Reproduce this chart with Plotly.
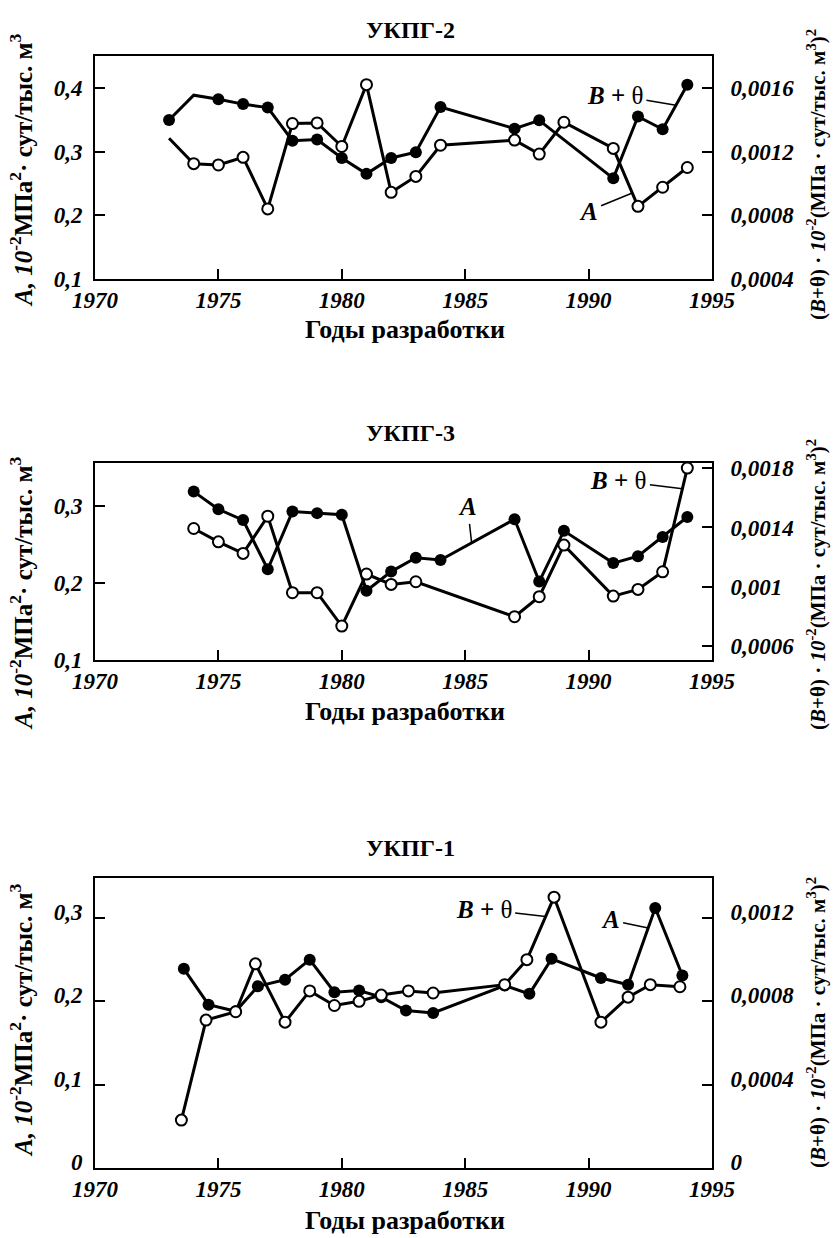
import plotly.graph_objects as go

# ---------------- data ----------------
# Panel 1: УКПГ-2
p1_a_years = [1973, 1974, 1975, 1976, 1977, 1978, 1979, 1980, 1981, 1982, 1983, 1984,
              1987, 1988, 1989, 1991, 1992, 1993, 1994]
p1_a_vals = [0.321, 0.281, 0.279, 0.291, 0.210, 0.344, 0.345, 0.308, 0.405, 0.236, 0.261, 0.310,
             0.318, 0.296, 0.346, 0.305, 0.214, 0.244, 0.275]
p1_b_years = [1973, 1974, 1975, 1976, 1977, 1978, 1979, 1980, 1981, 1982, 1983, 1984,
              1987, 1988, 1991, 1992, 1993, 1994]
p1_b_vals = [0.001398, 0.001554, 0.001528, 0.001498, 0.001476, 0.001268, 0.001276, 0.00116,
             0.00106, 0.00116, 0.001196, 0.00148, 0.001344, 0.001396, 0.001032, 0.00142,
             0.00134, 0.00162]

# Panel 2: УКПГ-3
p2_a_years = [1974, 1975, 1976, 1977, 1978, 1979, 1980, 1981, 1982, 1983, 1984,
              1987, 1988, 1989, 1991, 1992, 1993, 1994]
p2_a_vals = [0.319, 0.296, 0.282, 0.218, 0.293, 0.291, 0.289, 0.190, 0.215, 0.233, 0.230,
             0.283, 0.202, 0.268, 0.226, 0.235, 0.260, 0.286]
p2_b_years = [1974, 1975, 1976, 1977, 1978, 1979, 1980, 1981, 1982, 1983,
              1987, 1988, 1989, 1991, 1992, 1993, 1994]
p2_b_vals = [0.001393, 0.001303, 0.001225, 0.001476, 0.000960, 0.000960, 0.000735, 0.001086,
             0.001016, 0.001034, 0.000798, 0.000933, 0.001281, 0.000937, 0.000982, 0.001101,
             0.001801]

# Panel 3: УКПГ-1
p3_a_years = [1973.6, 1974.6, 1975.7, 1976.6, 1977.7, 1978.7, 1979.7, 1980.7, 1981.6, 1982.6,
              1983.7, 1986.6, 1987.6, 1988.5, 1990.5, 1991.6, 1992.7, 1993.8]
p3_a_vals = [0.239, 0.196, 0.188, 0.218, 0.226, 0.250, 0.211, 0.213, 0.205, 0.189,
             0.186, 0.219, 0.209, 0.251, 0.228, 0.220, 0.312, 0.231]
p3_b_years = [1973.5, 1974.5, 1975.7, 1976.5, 1977.7, 1978.7, 1979.7, 1980.7, 1981.6, 1982.7,
              1983.7, 1986.6, 1987.5, 1988.6, 1990.5, 1991.6, 1992.5, 1993.7]
p3_b_vals = [0.00023, 0.00071, 0.00075, 0.00098, 0.00070, 0.00085, 0.00078, 0.00080, 0.00083,
             0.00085, 0.00084, 0.00088, 0.00100, 0.00130, 0.00070, 0.00082, 0.00088, 0.00087]

x_ticks = [1970, 1975, 1980, 1985, 1990, 1995]
p1_left_ticks = [0.1, 0.2, 0.3, 0.4]
p1_right_ticks = [0.0004, 0.0008, 0.0012, 0.0016]
p2_left_ticks = [0.1, 0.2, 0.3]
p2_right_ticks = [0.0006, 0.001, 0.0014, 0.0018]
p3_left_ticks = [0, 0.1, 0.2, 0.3]
p3_right_ticks = [0, 0.0004, 0.0008, 0.0012]

titles = ["УКПГ-2", "УКПГ-3", "УКПГ-1"]
x_title = "Годы разработки"

# ---------------- style ----------------
W, H = 833, 1238
SERIF = "Liberation Serif"
x_dom = [95 / W, 712 / W]
panels_px = [(56, 279), (463, 660), (878, 1168)]  # top, bottom in px
y_doms = [[1 - b / H, 1 - t / H] for t, b in panels_px]
y_label_shift = [0, 0, -6]

ranges = [
    ([0.1, 0.45], [0.0004, 0.0018]),
    ([0.1, 0.3562], [0.000506, 0.001835]),
    ([0, 0.348], [0, 0.001392]),
]
tick_sets = [
    (p1_left_ticks, p1_right_ticks),
    (p2_left_ticks, p2_right_ticks),
    (p3_left_ticks, p3_right_ticks),
]


def fmt(v):
    s = ("%.6f" % v).rstrip("0").rstrip(".")
    return s.replace(".", ",")


tickfont = dict(family=SERIF, size=23, color="black", weight="bold", style="italic")

fig = go.Figure()

line = dict(color="black", width=3)


def open_marker(n, hidden=()):
    return dict(symbol="circle", size=[0 if i in hidden else 11 for i in range(n)],
                color="white", opacity=1, line=dict(color="black", width=2))


def filled_marker(n, hidden=()):
    return dict(symbol="circle", size=[0 if i in hidden else 12 for i in range(n)],
                color="black", opacity=1, line=dict(color="black", width=0))


# Panel 1: A open (left), B+θ filled (right)
fig.add_trace(go.Scatter(x=p1_a_years, y=p1_a_vals, mode="lines+markers", line=line,
                         marker=open_marker(len(p1_a_years), hidden=(0,)),
                         xaxis="x", yaxis="y", cliponaxis=False))
fig.add_trace(go.Scatter(x=p1_b_years, y=p1_b_vals, mode="lines+markers", line=line,
                         marker=filled_marker(len(p1_b_years), hidden=(1,)),
                         xaxis="x", yaxis="y2", cliponaxis=False))
# Panel 2: A filled (left), B+θ open (right)
fig.add_trace(go.Scatter(x=p2_a_years, y=p2_a_vals, mode="lines+markers", line=line,
                         marker=filled_marker(len(p2_a_years)),
                         xaxis="x2", yaxis="y3", cliponaxis=False))
fig.add_trace(go.Scatter(x=p2_b_years, y=p2_b_vals, mode="lines+markers", line=line,
                         marker=open_marker(len(p2_b_years)),
                         xaxis="x2", yaxis="y4", cliponaxis=False))
# Panel 3: A filled (left), B+θ open (right)
fig.add_trace(go.Scatter(x=p3_a_years, y=p3_a_vals, mode="lines+markers", line=line,
                         marker=filled_marker(len(p3_a_years)),
                         xaxis="x3", yaxis="y5", cliponaxis=False))
fig.add_trace(go.Scatter(x=p3_b_years, y=p3_b_vals, mode="lines+markers", line=line,
                         marker=open_marker(len(p3_b_years)),
                         xaxis="x3", yaxis="y6", cliponaxis=False))

axis_common = dict(showline=True, linecolor="black", linewidth=2, ticks="inside",
                   ticklen=10, tickwidth=2, tickcolor="black", showgrid=False,
                   zeroline=False, tickfont=tickfont, automargin=False)

layout = dict(width=W, height=H, margin=dict(l=0, r=0, t=0, b=0, autoexpand=False),
              paper_bgcolor="white", plot_bgcolor="white", showlegend=False,
              template="none")

for i in range(3):
    xa = "xaxis" if i == 0 else "xaxis%d" % (i + 1)
    yl_name = 2 * i + 1
    yr_name = 2 * i + 2
    yl = "yaxis" if yl_name == 1 else "yaxis%d" % yl_name
    yr = "yaxis%d" % yr_name
    yl_ref = "y" if yl_name == 1 else "y%d" % yl_name
    x_ref = "x" if i == 0 else "x%d" % (i + 1)
    layout[xa] = dict(axis_common, domain=x_dom, range=[1970, 1995], tickvals=x_ticks,
                      ticktext=[str(t) for t in x_ticks], anchor=yl_ref, mirror=True,
                      ticklabelstandoff=-1)
    lt, rt = tick_sets[i]
    layout[yl] = dict(axis_common, domain=y_doms[i], range=ranges[i][0], tickvals=lt,
                      ticktext=[fmt(v) for v in lt], anchor=x_ref, side="left",
                      ticklabelstandoff=6, ticklabelshift=y_label_shift[i])
    layout[yr] = dict(axis_common, range=ranges[i][1], tickvals=rt,
                      ticktext=[fmt(v) for v in rt], anchor=x_ref, side="right",
                      overlaying=yl_ref, ticklabelstandoff=12,
                      ticklabelshift=y_label_shift[i])

fig.update_layout(**layout)

# ---------------- annotations ----------------
ann = []
title_font = dict(family=SERIF, size=24, color="black")
title_y_px = [30, 433, 848]
xtitle_y_px = [329, 711, 1220]
ltitle_y_px = [170, 593, 1020]
rtitle_y_px = [175, 585, 1023]
left_title = "<b><i>A, 10</i><sup>-2</sup>МПа<sup>2</sup>· сут/тыс. м<sup>3</sup></b>"
right_title = "<b>(<i>B</i>+θ) · <i>10</i><sup>-2</sup>(МПа · сут/тыс. м<sup>3</sup>)<sup>2</sup></b>"
for i in range(3):
    ann.append(dict(text="<b>%s</b>" % titles[i], x=410 / W, y=1 - title_y_px[i] / H,
                    xref="paper", yref="paper", showarrow=False, font=title_font,
                    xanchor="center", yanchor="middle"))
    ann.append(dict(text="<b>%s</b>" % x_title, x=405 / W, y=1 - xtitle_y_px[i] / H,
                    xref="paper", yref="paper", showarrow=False,
                    font=dict(family=SERIF, size=26, color="black"),
                    xanchor="center", yanchor="middle"))
    ann.append(dict(text=left_title, x=21 / W, y=1 - ltitle_y_px[i] / H, xref="paper",
                    yref="paper", showarrow=False, textangle=-90,
                    font=dict(family=SERIF, size=25, color="black"),
                    xanchor="center", yanchor="middle"))
    ann.append(dict(text=right_title, x=816 / W, y=1 - rtitle_y_px[i] / H, xref="paper",
                    yref="paper", showarrow=False, textangle=-90,
                    font=dict(family=SERIF, size=21, color="black"),
                    xanchor="center", yanchor="middle"))


def tip(xs, ys, i, frac):
    return xs[i] + frac * (xs[i + 1] - xs[i]), ys[i] + frac * (ys[i + 1] - ys[i])


label_font = dict(family=SERIF, size=25, color="black")
B_LABEL = "<b><i>B</i> + </b>θ"
A_LABEL = "<b><i>A</i></b>"
labels = [
    (B_LABEL, p1_b_years, p1_b_vals, 16, 0.54, "x", "y2", -61, -10),
    (A_LABEL, p1_a_years, p1_a_vals, 15, 0.77, "x", "y", -44, 18),
    (B_LABEL, p2_b_years, p2_b_vals, 15, 0.80, "x2", "y4", -64, -8),
    (A_LABEL, p2_a_years, p2_a_vals, 10, 0.42, "x2", "y3", -4, -36),
    (B_LABEL, p3_b_years, p3_b_vals, 12, 0.69, "x3", "y6", -62, -7),
    (A_LABEL, p3_a_years, p3_a_vals, 15, 0.74, "x3", "y5", -38, -8),
]
for text, xs, ys, idx, frac, xr, yr, ax, ay in labels:
    tx, ty = tip(xs, ys, idx, frac)
    ann.append(dict(text=text, x=tx, y=ty, xref=xr, yref=yr, showarrow=True,
                    arrowhead=0, arrowwidth=1.5, arrowcolor="black", ax=ax, ay=ay,
                    standoff=0, startstandoff=2, font=label_font))

fig.update_layout(annotations=ann)

fig.write_html("out.html")
